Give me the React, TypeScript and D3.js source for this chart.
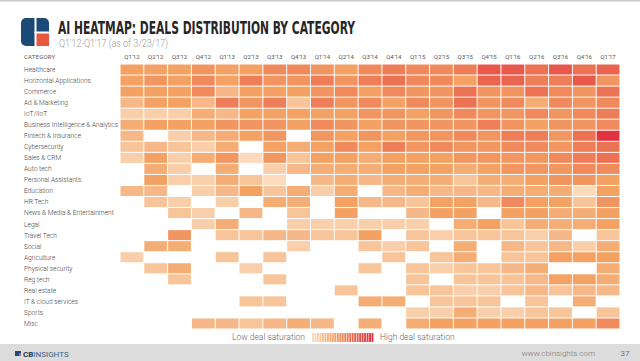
import React from "react";
import * as d3 from "d3";

const categories = [
  "Healthcare",
  "Horizontal Applications",
  "Commerce",
  "Ad & Marketing",
  "IoT/IIoT",
  "Business Intelligence & Analytics",
  "Fintech & Insurance",
  "Cybersecurity",
  "Sales & CRM",
  "Auto tech",
  "Personal Assistants",
  "Education",
  "HR Tech",
  "News & Media & Entertainment",
  "Legal",
  "Travel Tech",
  "Social",
  "Agriculture",
  "Physical security",
  "Reg tech",
  "Real estate",
  "IT & cloud services",
  "Sports",
  "Misc",
];

const quarters = [
  "Q1'12", "Q2'12", "Q3'12", "Q4'12", "Q1'13", "Q2'13", "Q3'13", "Q4'13",
  "Q1'14", "Q2'14", "Q3'14", "Q4'14", "Q1'15", "Q2'15", "Q3'15", "Q4'15",
  "Q1'16", "Q2'16", "Q3'16", "Q4'16", "Q1'17",
];

// deal saturation, 0 = no deals
const saturation = [
  [5, 5, 5, 5.5, 5, 5, 6, 6, 5.5, 5, 6, 6.5, 6, 6, 6.5, 8, 8, 7, 8, 7, 7.5],
  [5, 5.5, 5, 6, 5, 6.5, 5.5, 5.5, 6.5, 5.5, 6.5, 7, 6, 6, 5, 7.5, 7.5, 6.5, 6.5, 8, 5.5],
  [5, 5, 5, 6, 4, 5, 5, 5, 5.5, 6, 5, 6, 5.5, 5.5, 7, 5.5, 5.5, 7, 6, 5.5, 7],
  [4, 5, 5, 4, 6.5, 5.5, 6.5, 3.5, 6.5, 5.5, 6, 5, 6, 5.5, 7, 5.5, 6, 4.5, 6, 5.5, 6],
  [3, 3, 3, 4.5, 4, 5, 5, 5, 5, 5, 5.5, 5.5, 5, 5.5, 6, 5.5, 5.5, 6, 5.5, 6, 6.5],
  [4.5, 5, 5, 5, 5.5, 5.5, 5.5, 5, 6, 5.5, 5, 5.5, 5.5, 5.5, 5.5, 6.5, 5.5, 5, 5.5, 5.5, 6],
  [4, 0, 3, 4, 4.5, 5, 5.5, 0, 5.5, 5, 5.5, 5, 5.5, 5.5, 6, 5.5, 6.5, 6.5, 5.5, 7, 9.5],
  [3.5, 4, 3.5, 3, 4.5, 0, 5, 4.5, 5, 6, 5, 6.5, 5.5, 6, 5.5, 5.5, 6, 6, 5.5, 6.5, 7],
  [3, 5, 3, 4.5, 5.5, 2.5, 5.5, 3.5, 5, 5, 4.5, 5, 5, 5, 5.5, 5.5, 5.5, 5.5, 6, 6.5, 7],
  [0, 4.5, 3, 0, 4.5, 0, 3, 4, 4.5, 4.5, 4.5, 5, 5, 5, 4.5, 5, 5.5, 5.5, 5.5, 6, 6],
  [0, 5, 3, 3, 4.5, 3.5, 2.5, 0, 4, 4.5, 4, 4.5, 4.5, 4.5, 3.5, 4.5, 4.5, 5, 5.5, 5.5, 5],
  [4, 4, 0, 3, 4, 5, 3.5, 4.5, 3, 4.5, 0, 4, 4.5, 4, 4, 4, 4.5, 4.5, 4.5, 2.5, 5],
  [0, 3.5, 3, 0, 3, 0, 4.5, 4.5, 0, 5, 4, 4, 3.5, 5, 5, 4, 6, 5, 5, 3.5, 5.5],
  [0, 0, 3.5, 3, 0, 4, 0, 3.5, 0, 5, 0, 0, 4, 5, 5, 0, 5, 5, 4.5, 4.5, 5],
  [0, 0, 0, 3, 4.5, 0, 0, 3, 3, 3, 3, 3, 3, 0, 4.5, 5, 3.5, 4.5, 4.5, 4.5, 5],
  [0, 0, 5.5, 0, 3.5, 3.5, 4, 4, 3.5, 3.5, 5, 0, 3.5, 3, 3.5, 3.5, 3.5, 3, 4, 0, 3.5],
  [0, 4.5, 4.5, 0, 0, 0, 0, 3, 0, 0, 3.5, 3, 3.5, 0, 4.5, 0, 4, 3.5, 4, 3, 4.5],
  [3, 0, 0, 0, 3.5, 0, 3.5, 0, 0, 0, 0, 3.5, 0, 3.5, 4.5, 0, 3.5, 3.5, 5, 5, 5],
  [0, 3.5, 4.5, 0, 0, 3, 0, 0, 0, 0, 3.5, 0, 3.5, 3, 3.5, 3.5, 4, 4.5, 0, 0, 4.5],
  [0, 0, 3.5, 0, 0, 0, 3.5, 0, 0, 0, 0, 0, 3.5, 0, 3.5, 3.5, 3.5, 4, 5, 5, 4.5],
  [0, 0, 0, 0, 0, 0, 0, 0, 0, 3.5, 0, 0, 3.5, 3.5, 3, 3, 3.5, 4, 3.5, 4, 4],
  [0, 0, 0, 0, 0, 3.5, 3.5, 0, 0, 0, 4.5, 4.5, 0, 3.5, 3.5, 3.5, 0, 3.5, 0, 4.5, 0],
  [0, 0, 0, 0, 0, 0, 0, 0, 0, 0, 0, 0, 3, 3, 4.5, 3, 3, 3.5, 3.5, 0, 3.5],
  [0, 0, 0, 4, 4, 3.5, 4, 4.5, 4, 0, 4.5, 0, 4.5, 5, 5, 5, 5, 5, 5, 5, 6],
];

const legendSteps = d3.range(2.5, 9.75, 0.3);

const W = 640;
const H = 361;

export default function App() {
  const x = d3.scaleBand().domain(quarters).range([120, 620]);
  const y = d3.scaleBand().domain(categories).range([64, 329]);
  const color = d3
    .scaleLinear<string>()
    .domain([2.5, 5, 7, 9.5])
    .range(["#fbdabd", "#f3a264", "#ec7254", "#e2323f"])
    .interpolate(d3.interpolateRgb)
    .clamp(true);

  const legendX = d3.scaleLinear().domain([2.5, 9.75]).range([312, 372]);

  const cells = categories.flatMap((c, i) =>
    quarters.map((q, j) => ({ c, q, v: saturation[i][j] }))
  );

  return (
    <svg
      width={W}
      height={H}
      style={{ position: "fixed", left: 0, top: 0, background: "#fff" }}
      fontFamily="Roboto, 'Open Sans', sans-serif"
    >
      <rect x={0} y={0} width={W} height={1.5} fill="#c9c9c9" />

      {/* logo */}
      <g transform="translate(21,18)">
        <rect width={28} height={28} rx={5} fill="#1c4a78" />
        <rect x={15} y={15} width={13} height={13} fill="#e8573f" />
        <rect x={13.5} y={0} width={2} height={28} fill="#fff" />
        <rect x={13.5} y={13.5} width={14.5} height={2} fill="#fff" />
        <rect x={22} y={22} width={6} height={6} fill="#e8573f" />
      </g>
      <text
        x={58}
        y={34}
        fontFamily="'DejaVu Sans Condensed', Roboto, sans-serif"
        fontWeight={700}
        fontSize={17}
        fill="#262626"
        textLength={297}
        lengthAdjust="spacingAndGlyphs"
      >
        AI HEATMAP: DEALS DISTRIBUTION BY CATEGORY
      </text>
      <text
        x={59}
        y={46.5}
        fontSize={10}
        fontWeight={300}
        fill="#9a9a9a"
        textLength={109}
        lengthAdjust="spacingAndGlyphs"
      >
        Q1'12-Q1'17 (as of 3/23/17)
      </text>

      {/* column header */}
      <text x={24} y={58.5} fontSize={6} fill="#555" letterSpacing={0.2}>
        CATEGORY
      </text>
      {quarters.map((q) => (
        <text
          key={q}
          x={x(q)! + x.bandwidth() / 2}
          y={58.5}
          fontSize={6}
          fill="#555"
          textAnchor="middle"
        >
          {q}
        </text>
      ))}

      {/* row labels */}
      {categories.map((c) => (
        <text
          key={c}
          x={24}
          y={y(c)! + y.bandwidth() / 2 + 2.4}
          fontSize={6.6}
          fontWeight={300}
          fill="#444"
        >
          {c}
        </text>
      ))}

      {/* cells */}
      {cells
        .filter((d) => d.v > 0)
        .map((d) => (
          <rect
            key={d.c + d.q}
            x={x(d.q)! + 0.5}
            y={y(d.c)! + 0.5}
            width={x.bandwidth() - 1}
            height={y.bandwidth() - 1}
            fill={color(d.v)}
          />
        ))}

      {/* legend */}
      <text x={305} y={340} fontSize={8.5} fontWeight={300} fill="#666" textAnchor="end">
        Low deal saturation
      </text>
      {legendSteps.map((v) => (
        <rect
          key={v}
          x={legendX(v)}
          y={333}
          width={legendX(v + 0.3) - legendX(v) - 0.6}
          height={9}
          fill={color(v)}
        />
      ))}
      <text x={380} y={340} fontSize={8.5} fontWeight={300} fill="#666">
        High deal saturation
      </text>

      {/* footer */}
      <rect x={0} y={344} width={W} height={H - 344} fill="#dcdcdc" />
      <rect x={15} y={351} width={6} height={5} fill="#1c4a78" />
      <rect x={19} y={353} width={2} height={3} fill="#e8573f" />
      <text x={23} y={356.5} fontSize={8} fontWeight={700} fill="#1c3a5a">
        CB
        <tspan fontWeight={400} fill="#3e5f80">
          INSIGHTS
        </tspan>
      </text>
      <text x={595} y={356} fontSize={8} fontWeight={300} fill="#777" textAnchor="end">
        www.cbinsights.com
      </text>
      <text x={625} y={356} fontSize={8} fill="#777" textAnchor="middle">
        37
      </text>
    </svg>
  );
}
